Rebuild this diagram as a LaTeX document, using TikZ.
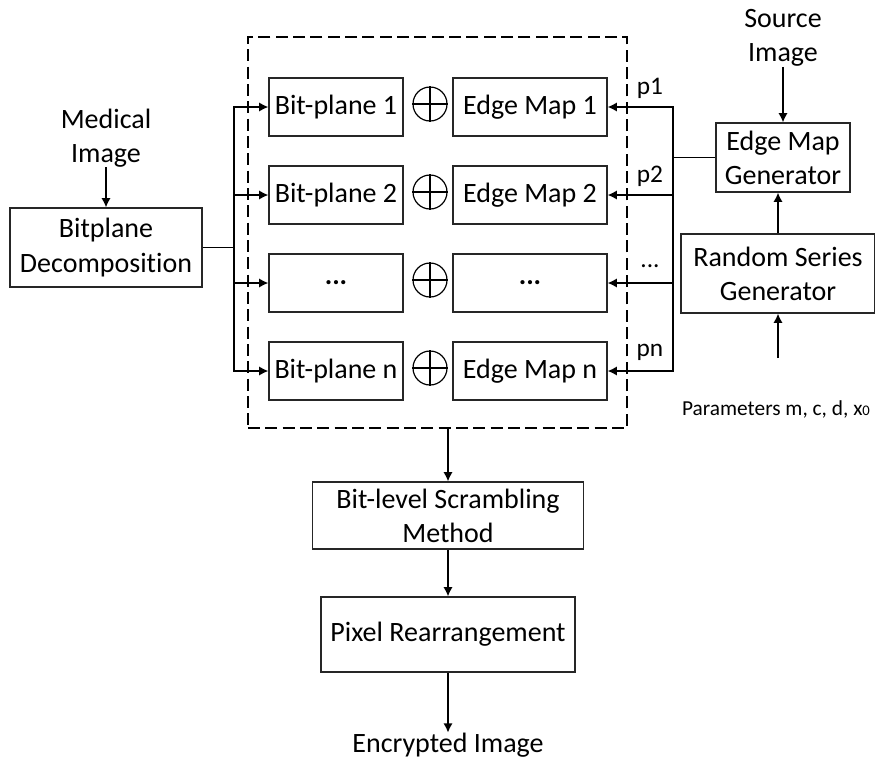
\documentclass[tikz,border=0pt]{standalone}
\usepackage{fontspec}
\setmainfont{Carlito}[Ligatures=NoCommon]
\usetikzlibrary{arrows.meta}
\newcommand{\px}{0.75pt}
\newcommand{\bigtext}{\fontsize{21}{25.6}\selectfont}
\newcommand{\midtext}{\fontsize{19}{23}\selectfont}
\newcommand{\smalltext}{\fontsize{16}{19}\selectfont}

\begin{document}
\begin{tikzpicture}[x=0.75pt, y=-0.75pt,
    block/.style={draw=black!85, line width=0.9pt, align=center, inner sep=0pt, font=\bigtext},
    plane/.style={block, minimum width=134*\px, minimum height=58*\px},
    edgemap/.style={block, minimum width=154*\px, minimum height=58*\px},
    xor/.style={draw, circle, line width=0.9pt, minimum size=34*\px, inner sep=0pt},
    txt/.style={align=center, inner sep=0pt, font=\bigtext},
    link/.style={line width=1.2pt, -{Latex[length=7pt, width=7pt]}}]
    \useasboundingbox (0,0) rectangle (875,761);

    % dashed frame round the bit-plane rows
    \node[draw, dash pattern=on 9pt off 4pt, line width=0.9pt, minimum width=379*\px, minimum height=391*\px] (core) at (437.5,232.5) {};

    \draw
        (106,138) node[txt] (med) {Medical\\Image}
        (106,247.5) node[block, minimum width=192*\px, minimum height=79*\px] (bd) {Bitplane\\Decomposition}

        (336,107) node[plane] (bp1) {Bit-plane 1}
        (336,195) node[plane] (bp2) {Bit-plane 2}
        (336,283) node[plane] (bp3) {\textbf{...}}
        (336,371) node[plane] (bp4) {Bit-plane n}

        (430,104) node[xor] (x1) {}
        (430,192) node[xor] (x2) {}
        (430,280) node[xor] (x3) {}
        (430,368) node[xor] (x4) {}

        (530,107) node[edgemap] (em1) {Edge Map 1}
        (530,195) node[edgemap] (em2) {Edge Map 2}
        (530,283) node[edgemap] (em3) {\textbf{...}}
        (530,371) node[edgemap] (em4) {Edge Map n}

        (650,88) node[font=\midtext] (p1) {p1}
        (650,176) node[font=\midtext] (p2) {p2}
        (650,266) node[font=\midtext] (p3) {...}
        (650,352) node[font=\midtext] (p4) {pn}

        (783,38) node[txt] (src) {Source\\Image}
        (783,157.5) node[block, minimum width=134*\px, minimum height=69*\px] (emg) {Edge Map\\Generator}
        (778,273.5) node[block, minimum width=194*\px, minimum height=79*\px] (rsg) {Random Series\\Generator}
        (776,409) node[txt, font=\smalltext] (par) {Parameters m, c, d, x\raisebox{-0.5pt}{\fontsize{11}{11}\selectfont 0}}

        (448,515.5) node[block, minimum width=271*\px, minimum height=67*\px] (bls) {Bit-level Scrambling\\Method}
        (448,634.5) node[block, minimum width=254*\px, minimum height=75*\px] (pr) {Pixel Rearrangement}
        (448,745) node[txt] (enc) {Encrypted Image}
        ;

    % the XOR signs
    \foreach \n in {1,...,4}
        \draw[line width=0.9pt] (x\n.north) -- (x\n.south) (x\n.west) -- (x\n.east);

    \coordinate (lbus) at (234,247.5);
    \coordinate (rbus) at (673,157.5);
    \coordinate (parin) at (778,358);

    \draw[line width=1.2pt] (bd.east) -- (lbus) (emg.west) -- (rbus);
    \foreach \n in {1,...,4} {
        \draw[link] (lbus) |- (bp\n.west);
        \draw[link] (rbus) |- (em\n.east);
    }

    \draw[link] (med) -- (bd);
    \draw[link] (src) -- (emg);
    \draw[link] (parin) -- (rsg);
    \draw[link] (rsg.north) -- (rsg.north |- emg.south);
    \draw[link] (core.south -| bls.north) -- (bls.north);
    \draw[link] (bls) -- (pr);
    \draw[link] (pr) -- (enc);
\end{tikzpicture}
\end{document}
